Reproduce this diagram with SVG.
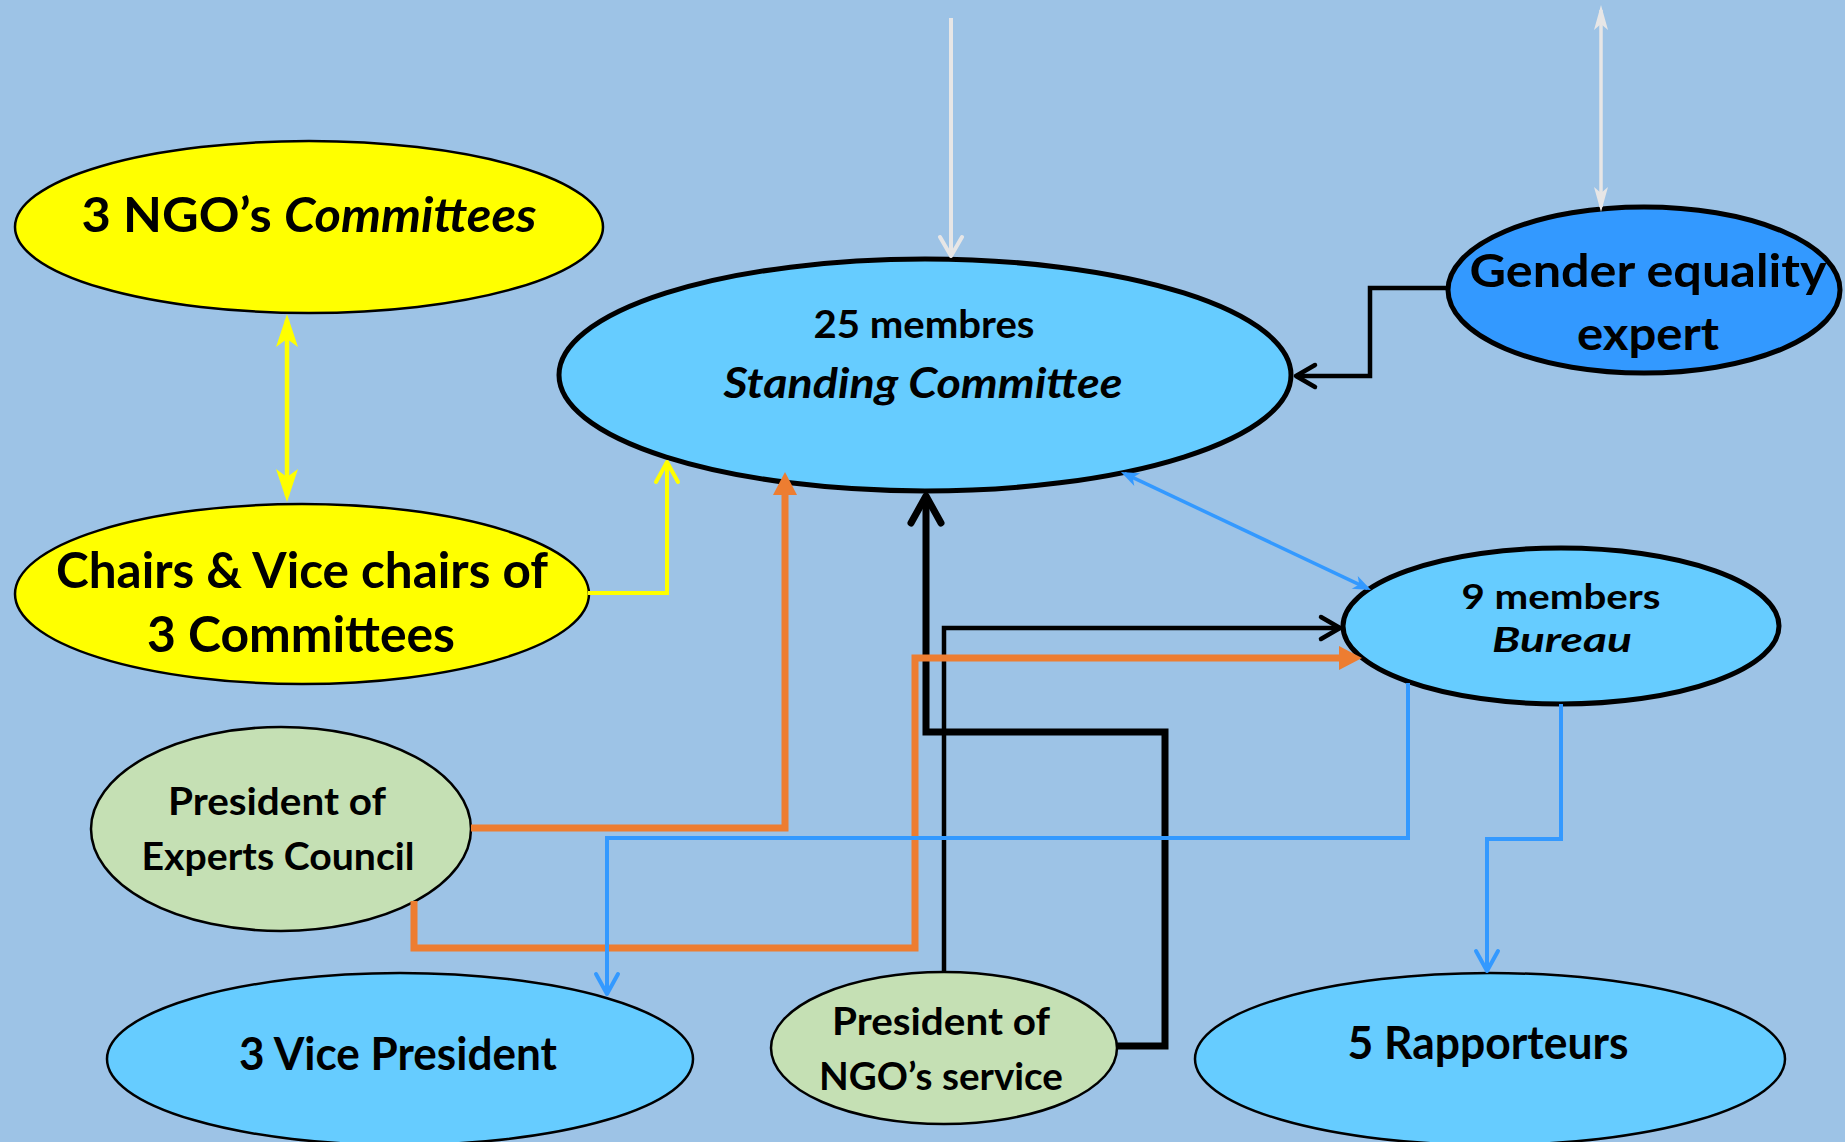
<svg xmlns="http://www.w3.org/2000/svg" width="1845" height="1142" viewBox="0 0 1845 1142">
<style>
.t{font-family:Lato,"Open Sans","Liberation Sans",sans-serif;font-weight:bold;fill:#000;text-anchor:middle}
.i{font-style:italic}
.thin{stroke:#000;stroke-width:2.5}
.thick{stroke:#000;stroke-width:5}
.yel{fill:#FFFF00}
.sky{fill:#66CCFF}
.grn{fill:#C5E0B4}
.blu{fill:#3399FF}
.c{fill:none;stroke-linejoin:miter}
</style>
<defs>
<marker id="chevK" markerUnits="userSpaceOnUse" viewBox="-30 -20 40 40" markerWidth="40" markerHeight="40" refX="0" refY="0" orient="auto" overflow="visible">
<path d="M-19,-11 L0,0 L-19,11" fill="none" stroke="#000" stroke-width="4.5" stroke-linecap="round" stroke-linejoin="round"/>
</marker>
<marker id="chevKB" markerUnits="userSpaceOnUse" viewBox="-40 -25 50 50" markerWidth="50" markerHeight="50" refX="0" refY="0" orient="auto" overflow="visible">
<path d="M-27,-15 L0,0 L-27,15" fill="none" stroke="#000" stroke-width="7" stroke-linecap="round" stroke-linejoin="round"/>
</marker>
<marker id="chevW" markerUnits="userSpaceOnUse" viewBox="-30 -20 40 40" markerWidth="40" markerHeight="40" refX="0" refY="0" orient="auto" overflow="visible">
<path d="M-19,-11 L0,0 L-19,11" fill="none" stroke="#E7E6E6" stroke-width="4" stroke-linecap="round" stroke-linejoin="round"/>
</marker>
<marker id="chevY" markerUnits="userSpaceOnUse" viewBox="-30 -20 40 40" markerWidth="40" markerHeight="40" refX="0" refY="0" orient="auto" overflow="visible">
<path d="M-20,-11 L0,0 L-20,11" fill="none" stroke="#FFFF00" stroke-width="4" stroke-linecap="round" stroke-linejoin="round"/>
</marker>
<marker id="chevB" markerUnits="userSpaceOnUse" viewBox="-30 -20 40 40" markerWidth="40" markerHeight="40" refX="0" refY="0" orient="auto" overflow="visible">
<path d="M-20,-11 L0,0 L-20,11" fill="none" stroke="#3399FF" stroke-width="4" stroke-linecap="round" stroke-linejoin="round"/>
</marker>
<marker id="triO" markerUnits="userSpaceOnUse" viewBox="-30 -20 60 40" markerWidth="60" markerHeight="40" refX="0" refY="0" orient="auto" overflow="visible">
<path d="M-1,-12 L22,0 L-1,12 Z" fill="#ED7D31"/>
</marker>
<marker id="stY" markerUnits="userSpaceOnUse" viewBox="-40 -20 50 40" markerWidth="50" markerHeight="40" refX="0" refY="0" orient="auto-start-reverse" overflow="visible">
<path d="M6,0 L-27,-11 L-19,0 L-27,11 Z" fill="#FFFF00"/>
</marker>
<marker id="stW" markerUnits="userSpaceOnUse" viewBox="-30 -20 40 40" markerWidth="40" markerHeight="40" refX="0" refY="0" orient="auto-start-reverse" overflow="visible">
<path d="M5,0 L-20,-7 L-14,0 L-20,7 Z" fill="#E7E6E6"/>
</marker>
<marker id="stB" markerUnits="userSpaceOnUse" viewBox="-30 -20 40 40" markerWidth="40" markerHeight="40" refX="0" refY="0" orient="auto-start-reverse" overflow="visible">
<path d="M4,0 L-14,-7 L-9,0 L-14,7 Z" fill="#3399FF"/>
</marker>
</defs>
<rect width="1845" height="1142" fill="#9DC3E6"/>

<g id="ngo-committees">
<ellipse cx="309" cy="227" rx="294" ry="86" class="yel thin"/>
<text class="t" x="309" y="232" font-size="47" textLength="455" lengthAdjust="spacingAndGlyphs">3 NGO’s <tspan class="i">Committees</tspan></text>
</g>
<g id="standing-committee">
<ellipse cx="925" cy="375" rx="366" ry="116" class="sky thick"/>
<text class="t" x="924" y="338" font-size="39" textLength="221" lengthAdjust="spacingAndGlyphs">25 membres</text>
<text class="t i" x="923" y="398" font-size="42" textLength="399" lengthAdjust="spacingAndGlyphs">Standing Committee</text>
</g>
<g id="gender-expert">
<ellipse cx="1644" cy="290" rx="196" ry="83" class="blu thick"/>
<text class="t" x="1648" y="287" font-size="46" textLength="357" lengthAdjust="spacingAndGlyphs">Gender equality</text>
<text class="t" x="1648" y="350" font-size="46" textLength="142" lengthAdjust="spacingAndGlyphs">expert</text>
</g>
<g id="chairs">
<ellipse cx="302" cy="594" rx="287" ry="90" class="yel thin"/>
<text class="t" x="302" y="588" font-size="49" textLength="492" lengthAdjust="spacingAndGlyphs">Chairs &amp; Vice chairs of</text>
<text class="t" x="301" y="652" font-size="49" textLength="308" lengthAdjust="spacingAndGlyphs">3 Committees</text>
</g>
<g id="experts-council">
<ellipse cx="281" cy="829" rx="190" ry="102" class="grn thin"/>
<text class="t" x="277" y="815" font-size="38" textLength="218" lengthAdjust="spacingAndGlyphs">President of</text>
<text class="t" x="278" y="870" font-size="38" textLength="273" lengthAdjust="spacingAndGlyphs">Experts Council</text>
</g>
<g id="bureau">
<ellipse cx="1561" cy="626" rx="218" ry="78" class="sky thick"/>
<text class="t" x="1561" y="609" font-size="34" textLength="199" lengthAdjust="spacingAndGlyphs">9 members</text>
<text class="t i" x="1562" y="652" font-size="35" textLength="140" lengthAdjust="spacingAndGlyphs">Bureau</text>
</g>
<g id="vice-president">
<ellipse cx="400" cy="1059" rx="293" ry="86" class="sky thin"/>
<text class="t" x="398" y="1070" font-size="45" textLength="318" lengthAdjust="spacingAndGlyphs">3 Vice President</text>
</g>
<g id="ngo-service">
<ellipse cx="944" cy="1048" rx="173" ry="76" class="grn thin"/>
<text class="t" x="941" y="1035" font-size="38" textLength="218" lengthAdjust="spacingAndGlyphs">President of</text>
<text class="t" x="941" y="1090" font-size="38" textLength="244" lengthAdjust="spacingAndGlyphs">NGO’s service</text>
</g>
<g id="rapporteurs">
<ellipse cx="1490" cy="1059" rx="295" ry="86" class="sky thin"/>
<text class="t" x="1488" y="1059" font-size="45" textLength="281" lengthAdjust="spacingAndGlyphs">5 Rapporteurs</text>
</g>

<g id="connectors">
<path class="c" d="M951,18 V256" stroke="#E7E6E6" stroke-width="4" marker-end="url(#chevW)"/>
<path class="c" d="M1601,10 V207" stroke="#E7E6E6" stroke-width="3.5" marker-start="url(#stW)" marker-end="url(#stW)"/>
<path class="c" d="M1447,288 H1370 V376 H1296" stroke="#000" stroke-width="4.5" marker-end="url(#chevK)"/>
<path class="c" d="M287,320 V496" stroke="#FFFF00" stroke-width="4.5" marker-start="url(#stY)" marker-end="url(#stY)"/>
<path class="c" d="M588,593 H667 V462" stroke="#FFFF00" stroke-width="4" marker-end="url(#chevY)"/>
<path class="c" d="M1117,1046 H1165 V732 H926 V496" stroke="#000" stroke-width="7" marker-end="url(#chevKB)"/>
<path class="c" d="M944,972 V628 H1340" stroke="#000" stroke-width="4.5" marker-end="url(#chevK)"/>
<path class="c" d="M471,828 H785 V494" stroke="#ED7D31" stroke-width="7" marker-end="url(#triO)"/>
<path class="c" d="M414,901 V948 H915 V658 H1340" stroke="#ED7D31" stroke-width="7" marker-end="url(#triO)"/>
<path class="c" d="M1124.6,473.7 L1367.4,588.3" stroke="#3399FF" stroke-width="3.5" marker-start="url(#stB)" marker-end="url(#stB)"/>
<path class="c" d="M1408,683 V838 H607 V994" stroke="#3399FF" stroke-width="4" marker-end="url(#chevB)"/>
<path class="c" d="M1561,704 V839 H1487 V971" stroke="#3399FF" stroke-width="4" marker-end="url(#chevB)"/>
</g>
</svg>
